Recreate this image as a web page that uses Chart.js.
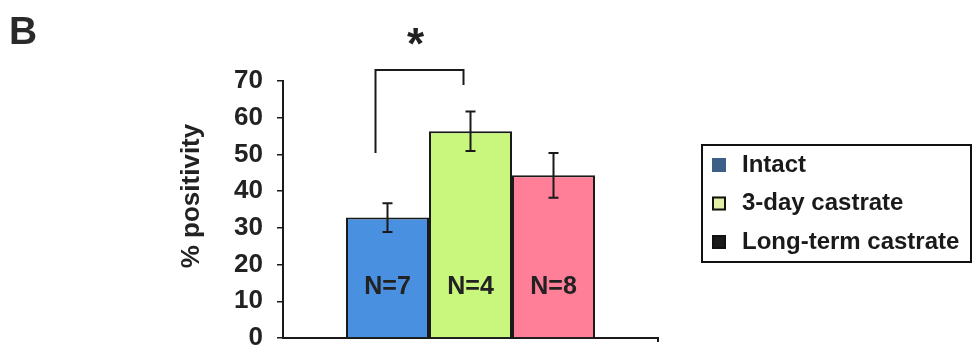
<!DOCTYPE html>
<html>
<head>
<meta charset="utf-8">
<script src="https://cdn.jsdelivr.net/npm/chart.js@4"></script>
<style>
html,body{margin:0;padding:0;background:#fff;}
#wrap{width:973px;height:350px;position:relative;}
</style>
</head>
<body>
<div id="wrap"><canvas id="c" width="973" height="350"></canvas></div>
<script>
const categories = ['Intact', '3-day castrate', 'Long-term castrate'];
const values = [32.8, 56.3, 44.3];
const errors = [3.9, 5.4, 6.1];
const nLabels = ['N=7', 'N=4', 'N=8'];
const yTicks = [0, 10, 20, 30, 40, 50, 60, 70];
const yTitle = '% positivity';
const barColors = ['#4a90e0', '#c9f67c', '#ff7f98'];
const legendSwatch = [
  {fill: '#3b5f86', stroke: '#3b5f86'},
  {fill: '#e3efa6', stroke: '#111'},
  {fill: '#1a1a1a', stroke: '#111'}
];
const FONT = '"Liberation Sans", Arial, sans-serif';

const datasets = categories.map((c, i) => ({
  label: c,
  data: [values[i]],
  backgroundColor: barColors[i],
  borderColor: '#1a1a1a',
  borderWidth: 2,
  borderSkipped: 'bottom',
  barPercentage: 1,
  categoryPercentage: 0.664
}));

const overlay = {
  id: 'overlay',
  afterDatasetsDraw(chart) {
    const ctx = chart.ctx;
    const y = chart.scales.y;
    const area = chart.chartArea;
    ctx.save();
    ctx.strokeStyle = '#1a1a1a';
    ctx.lineWidth = 2;
    const centers = [];
    chart.data.datasets.forEach((ds, i) => {
      const bar = chart.getDatasetMeta(i).data[0];
      centers.push(bar.x);
      const top = y.getPixelForValue(values[i] + errors[i]);
      const bot = y.getPixelForValue(values[i] - errors[i]);
      ctx.beginPath();
      ctx.moveTo(bar.x, top); ctx.lineTo(bar.x, bot);
      ctx.moveTo(bar.x - 5, top); ctx.lineTo(bar.x + 5, top);
      ctx.moveTo(bar.x - 5, bot); ctx.lineTo(bar.x + 5, bot);
      ctx.stroke();
      ctx.fillStyle = '#222';
      ctx.font = 'bold 25px ' + FONT;
      ctx.textAlign = 'center';
      ctx.textBaseline = 'middle';
      ctx.fillText(nLabels[i], bar.x, area.bottom - 51);
    });
    // significance bracket
    const lx = centers[0] - 12, rx = centers[1] - 7;
    const topY = area.top - 11;
    ctx.beginPath();
    ctx.moveTo(lx, y.getPixelForValue(50.4));
    ctx.lineTo(lx, topY);
    ctx.lineTo(rx, topY);
    ctx.lineTo(rx, topY + 15);
    ctx.stroke();
    ctx.fillStyle = '#222';
    ctx.font = 'bold 44px ' + FONT;
    ctx.textAlign = 'center';
    ctx.textBaseline = 'middle';
    ctx.fillText('*', (lx + rx) / 2 - 4, topY - 23);
    // x axis end tick
    ctx.beginPath();
    ctx.moveTo(area.right, area.bottom);
    ctx.lineTo(area.right, area.bottom + 4);
    ctx.stroke();
    // y axis title
    ctx.save();
    ctx.translate(192, 196);
    ctx.rotate(-Math.PI / 2);
    ctx.fillStyle = '#222';
    ctx.font = 'bold 26px ' + FONT;
    ctx.textAlign = 'center';
    ctx.textBaseline = 'middle';
    ctx.fillText(yTitle, 0, 0);
    ctx.restore();
    // panel letter
    ctx.fillStyle = '#2a2a2a';
    ctx.font = 'bold 39px ' + FONT;
    ctx.textAlign = 'left';
    ctx.textBaseline = 'top';
    ctx.fillText('B', 9, 14);
    // legend
    ctx.lineWidth = 2;
    ctx.strokeStyle = '#111';
    ctx.strokeRect(702, 145, 269, 117);
    ctx.font = 'bold 24px ' + FONT;
    ctx.textBaseline = 'middle';
    categories.forEach((c, i) => {
      const cy = 165 + i * 38.5;
      ctx.fillStyle = legendSwatch[i].fill;
      ctx.fillRect(712, cy - 7, 14, 14);
      ctx.strokeStyle = legendSwatch[i].stroke;
      ctx.lineWidth = 2;
      ctx.strokeRect(713, cy - 6, 12, 12);
      ctx.fillStyle = '#1a1a1a';
      ctx.fillText(c, 742, cy);
    });
    ctx.restore();
  }
};

new Chart(document.getElementById('c'), {
  type: 'bar',
  data: { labels: [''], datasets },
  options: {
    responsive: false,
    animation: false,
    layout: { padding: { left: 176, right: 315, top: 81, bottom: 12 } },
    plugins: { legend: { display: false }, tooltip: { enabled: false } },
    scales: {
      x: {
        grid: { display: false },
        ticks: { display: false },
        border: { display: true, color: '#1a1a1a', width: 2 },
        afterFit(s) { s.height = 0; s.paddingLeft = 0; s.paddingRight = 0; }
      },
      y: {
        min: 0, max: 70,
        afterBuildTicks(s) { s.ticks = yTicks.map(v => ({ value: v })); },
        afterFit(s) { s.width = 107; s.paddingTop = 0; s.paddingBottom = 0; },
        grid: { drawOnChartArea: false, drawTicks: true, tickLength: 6, color: '#1a1a1a', lineWidth: 1.5 },
        border: { display: true, color: '#1a1a1a', width: 2 },
        ticks: { color: '#222', padding: 14, font: { family: FONT, size: 26, weight: 'bold' } },
        title: { display: false }
      }
    }
  },
  plugins: [overlay]
});
</script>
</body>
</html>
